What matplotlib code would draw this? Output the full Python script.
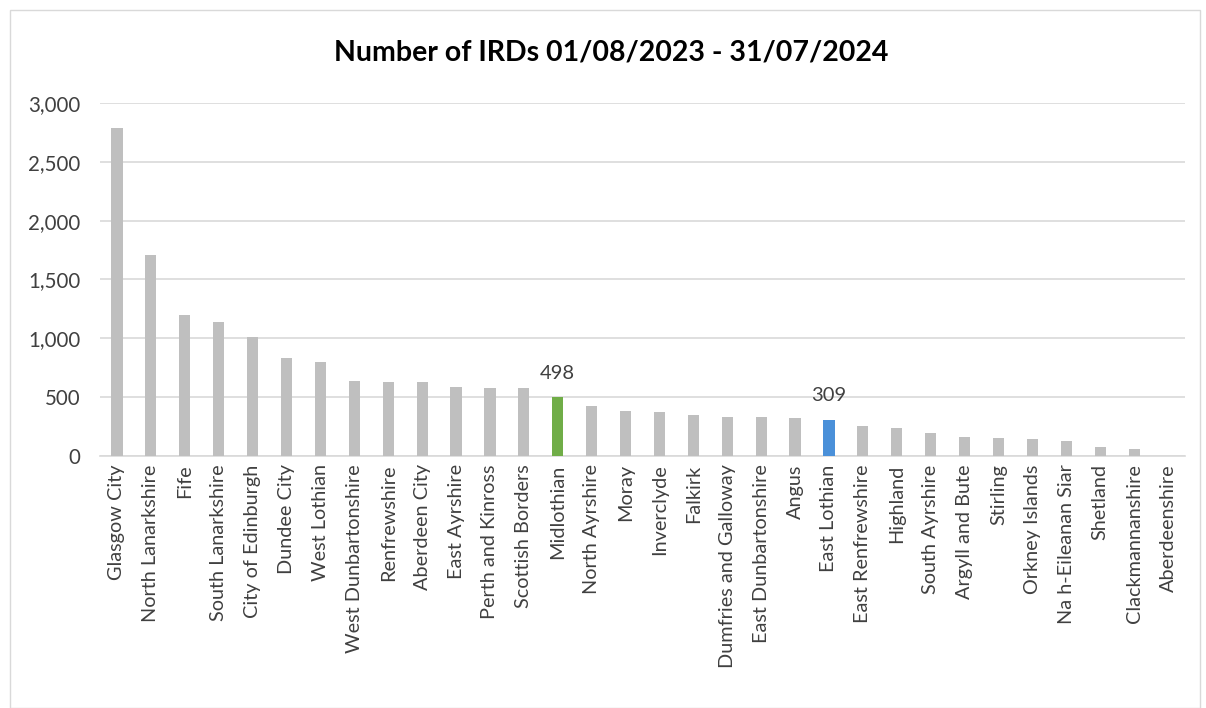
import matplotlib
matplotlib.use("Agg")
import matplotlib.pyplot as plt
from matplotlib.patches import Rectangle
from matplotlib.ticker import FuncFormatter, MultipleLocator

categories = ["Glasgow City", "North Lanarkshire", "Fife", "South Lanarkshire",
              "City of Edinburgh", "Dundee City", "West Lothian", "West Dunbartonshire",
              "Renfrewshire", "Aberdeen City", "East Ayrshire", "Perth and Kinross",
              "Scottish Borders", "Midlothian", "North Ayrshire", "Moray", "Inverclyde",
              "Falkirk", "Dumfries and Galloway", "East Dunbartonshire", "Angus",
              "East Lothian", "East Renfrewshire", "Highland", "South Ayrshire",
              "Argyll and Bute", "Stirling", "Orkney Islands", "Na h-Eileanan Siar",
              "Shetland", "Clackmannanshire", "Aberdeenshire"]
values = [2785, 1706, 1198, 1138, 1010, 829, 797, 636, 633, 627, 585, 577,
          576, 498, 424, 381, 372, 350, 332, 330, 321, 309, 257, 240, 195,
          161, 150, 147, 130, 79, 59, 0]
highlight = {"Midlothian": "#70ad47", "East Lothian": "#4a90d9"}
labelled = ["Midlothian", "East Lothian"]
title = "Number of IRDs 01/08/2023 - 31/07/2024"

plt.rcParams['font.family'] = ['Lato', 'DejaVu Sans']

fig = plt.figure(figsize=(12.06, 7.08), dpi=100)
fig.patches.append(Rectangle((10/1206, 0), 1190/1206, 698/708, transform=fig.transFigure,
                             fill=False, edgecolor="#d9d9d9", linewidth=1))
ax = fig.add_axes([100/1206, 1-456/708, 1085/1206, 353/708])

x = list(range(len(categories)))
colors = [highlight.get(c, "#bfbfbf") for c in categories]
ax.bar(x, values, width=0.33, color=colors, zorder=3)
for i, c in enumerate(categories):
    if c in labelled:
        ax.text(i, values[i] + 130, f"{values[i]}", ha="center", va="bottom",
                fontsize=14.5, color="#404040")

ax.set_xlim(-0.5, len(categories) - 0.5)
ax.set_ylim(0, 3000)
ax.yaxis.set_major_locator(MultipleLocator(500))
ax.yaxis.set_major_formatter(FuncFormatter(lambda v, p: f"{int(v):,}"))
ax.set_xticks(x)
ax.set_xticklabels(categories, rotation=90, fontsize=14.3, color="#404040")
ax.tick_params(axis="y", labelsize=14.8, colors="#404040", length=0, pad=14)
ax.tick_params(axis="x", length=0, pad=6)
ax.grid(axis="y", color="#d9d9d9", linewidth=1.2, zorder=0)
for s in ["left", "right", "top"]:
    ax.spines[s].set_visible(False)
ax.spines["bottom"].set_color("#d9d9d9")
ax.spines["bottom"].set_linewidth(1.2)

fig.text(611/1206, 1-52/708, title, ha="center", va="center", fontsize=20.5,
         fontweight="bold", color="black")

fig.savefig("out.png", dpi=100)
